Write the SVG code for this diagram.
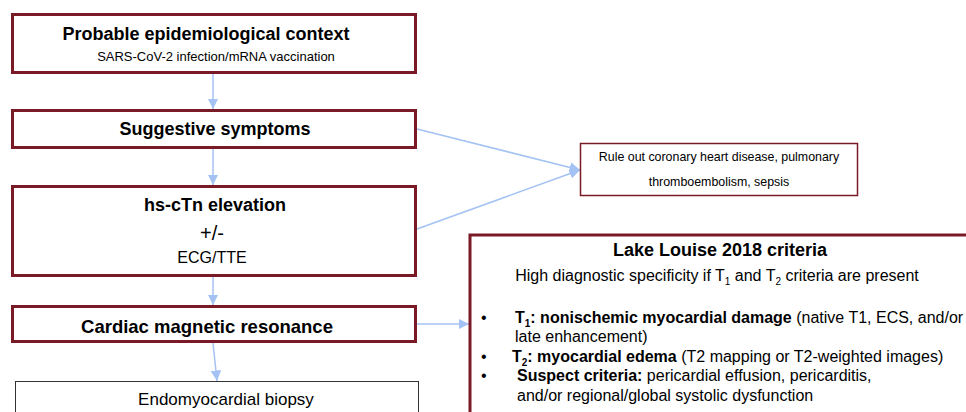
<svg xmlns="http://www.w3.org/2000/svg" width="966" height="412" viewBox="0 0 966 412">
<defs>
<style>
.bx{fill:#fff;stroke:#7a1a26;stroke-width:3}
.bt{fill:#fff;stroke:#7a1a26;stroke-width:1.5}
.bg{fill:#fff;stroke:#333;stroke-width:1}
.ar{stroke:#a4c2f4;stroke-width:1.5;fill:none;marker-end:url(#ah)}
text{font-family:"Liberation Sans",Arial,sans-serif;fill:#000}
.b{font-weight:bold}
.c{text-anchor:middle}
.sb{font-size:10px}
</style>
<marker id="ah" viewBox="0 0 10 10" refX="10" refY="5" markerWidth="7" markerHeight="7" markerUnits="strokeWidth" orient="auto">
<path d="M0,0 L10,5 L0,10 z" fill="#a4c2f4"/>
</marker>
</defs>
<rect width="966" height="412" fill="#fff"/>
<g id="connectors">
<path class="ar" d="M213,74 L213,109"/>
<path class="ar" d="M213,149 L213,185"/>
<path class="ar" d="M213,277 L213,305"/>
<path class="ar" d="M213,343 L217,381"/>
<path class="ar" d="M417,129 L580,170"/>
<path class="ar" d="M417,229 L580,170"/>
<path class="ar" d="M417,324 L469,324"/>
</g>
<g id="n1">
<rect class="bx" x="12.5" y="14.5" width="403" height="58"/>
<text class="b c" x="206" y="40" font-size="18">Probable epidemiological context</text>
<text class="c" x="216" y="61" font-size="13">SARS-CoV-2 infection/mRNA vaccination</text>
</g>
<g id="n2">
<rect class="bx" x="12.5" y="110.5" width="403" height="37"/>
<text class="b c" x="215" y="135" font-size="18">Suggestive symptoms</text>
</g>
<g id="n3">
<rect class="bx" x="12.5" y="186.5" width="403" height="89"/>
<text class="b c" x="215" y="211" font-size="18">hs-cTn elevation</text>
<text class="c" x="212" y="240" font-size="20">+/-</text>
<text class="c" x="212" y="263" font-size="16">ECG/TTE</text>
</g>
<g id="n4">
<rect class="bx" x="12.5" y="306.5" width="403" height="35"/>
<text class="b c" x="207" y="333" font-size="18.5">Cardiac magnetic resonance</text>
</g>
<g id="n5">
<rect class="bg" x="15.5" y="381.5" width="403" height="40"/>
<text class="c" x="226" y="405" font-size="17">Endomyocardial biopsy</text>
</g>
<g id="n6">
<rect class="bt" x="580.5" y="143.5" width="277" height="52"/>
<text class="c" x="719" y="161" font-size="12.4">Rule out coronary heart disease, pulmonary</text>
<text class="c" x="719" y="186" font-size="12.4">thromboembolism, sepsis</text>
</g>
<g id="n7">
<rect class="bx" x="470" y="235" width="520" height="200"/>
<text class="b c" x="720" y="256" font-size="18">Lake Louise 2018 criteria</text>
<text class="c" x="717" y="281" font-size="16">High diagnostic specificity if T<tspan class="sb" dy="4">1</tspan><tspan dy="-4"> and T</tspan><tspan class="sb" dy="4">2</tspan><tspan dy="-4"> criteria are present</tspan></text>
<text x="481" y="323" font-size="16">•</text>
<text x="515" y="323" font-size="16"><tspan class="b">T</tspan><tspan class="b sb" dy="4">1</tspan><tspan class="b" dy="-4">: nonischemic myocardial damage</tspan> (native T1, ECS, and/or</text>
<text x="515" y="342" font-size="16">late enhancement)</text>
<text x="481" y="362" font-size="16">•</text>
<text x="512" y="362" font-size="16"><tspan class="b">T</tspan><tspan class="b sb" dy="4">2</tspan><tspan class="b" dy="-4">: myocardial edema</tspan> (T2 mapping or T2-weighted images)</text>
<text x="481" y="381" font-size="16">•</text>
<text x="517" y="381" font-size="16"><tspan class="b">Suspect criteria:</tspan> pericardial effusion, pericarditis,</text>
<text x="517" y="401" font-size="16">and/or regional/global systolic dysfunction</text>
</g>
</svg>
